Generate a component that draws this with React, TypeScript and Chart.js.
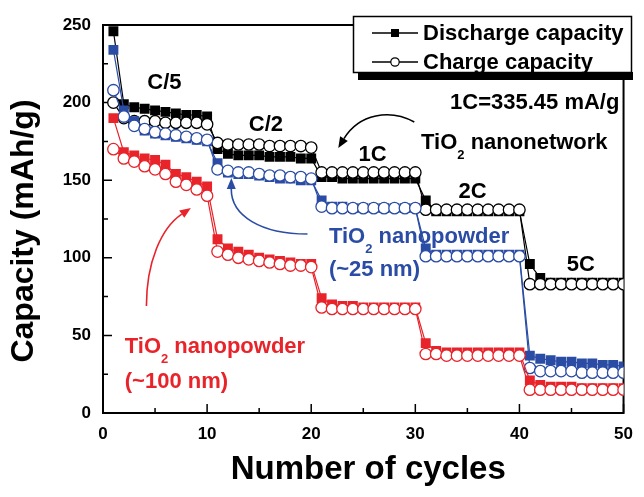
import React, { useEffect, useRef } from "react";
import { Chart, registerables } from "chart.js";

Chart.register(...registerables);

const FONT = '"Liberation Sans", Arial, Helvetica, sans-serif';
const BLACK = "#000000";
const BLUE = "#2a4ca5";
const RED = "#e8232a";

// cycle numbers
const cycles = [
  1, 2, 3, 4, 5, 6, 7, 8, 9, 10,
  11, 12, 13, 14, 15, 16, 17, 18, 19, 20,
  21, 22, 23, 24, 25, 26, 27, 28, 29, 30,
  31, 32, 33, 34, 35, 36, 37, 38, 39, 40,
  41, 42, 43, 44, 45, 46, 47, 48, 49, 50,
];

// TiO2 nanonetwork (mAh/g)
const networkDischarge = [
  246, 199, 197, 196, 195, 194, 193, 192, 192, 191,
  170, 167, 166, 166, 166, 165, 165, 165, 164, 164,
  152, 152, 151, 151, 151, 151, 151, 151, 151, 151,
  137, 130, 130, 130, 130, 130, 130, 130, 130, 130,
  96, 87, 84, 84, 84, 84, 84, 84, 84, 84,
];
const networkCharge = [
  200, 190, 188, 188, 188, 187, 187, 187, 187, 186,
  174, 173, 173, 173, 173, 172, 172, 172, 172, 171,
  155, 155, 155, 155, 155, 155, 155, 155, 155, 155,
  131, 131, 131, 131, 131, 131, 131, 131, 131, 131,
  83, 83, 83, 83, 83, 83, 83, 83, 83, 83,
];

// TiO2 nanopowder, ~25 nm (mAh/g)
const np25Discharge = [
  234, 195, 188, 182, 180, 179, 178, 177, 176, 175,
  161, 155, 154, 154, 153, 152, 151, 151, 150, 150,
  137, 133, 133, 132, 132, 132, 132, 132, 132, 132,
  106, 102, 102, 102, 102, 102, 102, 102, 102, 102,
  37, 35, 34, 33, 33, 32, 32, 31, 31, 30,
];
const np25Charge = [
  208, 191, 185, 183, 181, 180, 179, 178, 177, 176,
  157, 156, 155, 155, 154, 153, 153, 152, 152, 151,
  133, 132, 132, 132, 132, 132, 132, 132, 132, 132,
  101, 101, 101, 101, 101, 101, 101, 101, 101, 101,
  29, 27, 27, 27, 27, 26, 26, 26, 26, 26,
];

// TiO2 nanopowder, ~100 nm (mAh/g)
const np100Discharge = [
  190, 168, 166, 164, 163, 160, 154, 152, 149, 146,
  112, 106, 104, 102, 100, 99, 98, 97, 96, 96,
  74, 70, 69, 69, 68, 68, 68, 68, 68, 68,
  45, 40, 39, 39, 39, 39, 39, 39, 39, 39,
  21, 18, 17, 17, 17, 16, 16, 16, 16, 16,
];
const np100Charge = [
  170, 164, 162, 159, 157, 154, 149, 147, 144, 140,
  104, 102, 100, 99, 98, 97, 96, 95, 95, 94,
  68, 67, 67, 67, 67, 67, 67, 67, 67, 67,
  38, 38, 37, 37, 37, 37, 37, 37, 37, 37,
  15, 15, 15, 15, 15, 15, 15, 15, 15, 15,
];

const xTicks = [0, 10, 20, 30, 40, 50];
const xMinorTicks = [5, 15, 25, 35, 45];
const yTicks = [0, 50, 100, 150, 200, 250];
const yMinorTicks = [25, 75, 125, 175, 225];

const pts = (vals: number[]) => vals.map((v, i) => ({ x: cycles[i], y: v }));

function dischargeSet(label: string, vals: number[], color: string, order: number) {
  return {
    label,
    data: pts(vals),
    borderColor: color,
    backgroundColor: color,
    borderWidth: 1.2,
    pointStyle: "rect",
    pointRadius: 7,
    pointBackgroundColor: color,
    pointBorderColor: color,
    pointBorderWidth: 0,
    order,
  };
}

function chargeSet(label: string, vals: number[], color: string, order: number) {
  return {
    label,
    data: pts(vals),
    borderColor: color,
    backgroundColor: "#ffffff",
    borderWidth: 1.2,
    pointStyle: "circle",
    pointRadius: 5.7,
    pointBackgroundColor: "#ffffff",
    pointBorderColor: color,
    pointBorderWidth: 1.3,
    order,
  };
}

// text with a subscript "2" after "TiO"
function drawTiO2(ctx: CanvasRenderingContext2D, rest: string, x: number, y: number, color: string) {
  ctx.fillStyle = color;
  ctx.textAlign = "left";
  ctx.textBaseline = "middle";
  ctx.font = `bold 22px ${FONT}`;
  ctx.fillText("TiO", x, y);
  let cx = x + ctx.measureText("TiO").width;
  ctx.font = `bold 13px ${FONT}`;
  ctx.fillText("2", cx, y + 12);
  cx += ctx.measureText("2").width;
  ctx.font = `bold 22px ${FONT}`;
  ctx.fillText(rest, cx, y);
}

function curvedArrow(
  ctx: CanvasRenderingContext2D,
  p: { x: number; y: number }[],
  color: string
) {
  const [s, c1, c2, tip] = p;
  const ang = Math.atan2(tip.y - c2.y, tip.x - c2.x);
  const L = 11;
  const W = 4.5;
  const bx = tip.x - Math.cos(ang) * L;
  const by = tip.y - Math.sin(ang) * L;
  ctx.strokeStyle = color;
  ctx.fillStyle = color;
  ctx.lineWidth = 1.6;
  ctx.beginPath();
  ctx.moveTo(s.x, s.y);
  ctx.bezierCurveTo(c1.x, c1.y, c2.x, c2.y, bx, by);
  ctx.stroke();
  ctx.beginPath();
  ctx.moveTo(tip.x, tip.y);
  ctx.lineTo(bx + Math.sin(ang) * W, by - Math.cos(ang) * W);
  ctx.lineTo(bx - Math.sin(ang) * W, by + Math.cos(ang) * W);
  ctx.closePath();
  ctx.fill();
}

const decor = {
  id: "decor",
  beforeDatasetsDraw(chart: any) {
    const { ctx, chartArea: a, scales } = chart;
    const xs = scales.x;
    const ys = scales.y;
    ctx.save();
    ctx.strokeStyle = "#000";
    ctx.lineWidth = 2;
    ctx.strokeRect(a.left, a.top, a.right - a.left, a.bottom - a.top);
    ctx.lineWidth = 1.5;
    ctx.beginPath();
    xTicks.forEach((v) => {
      const px = xs.getPixelForValue(v);
      ctx.moveTo(px, a.bottom);
      ctx.lineTo(px, a.bottom - 9);
    });
    xMinorTicks.forEach((v) => {
      const px = xs.getPixelForValue(v);
      ctx.moveTo(px, a.bottom);
      ctx.lineTo(px, a.bottom - 5);
    });
    yTicks.forEach((v) => {
      const py = ys.getPixelForValue(v);
      ctx.moveTo(a.left, py);
      ctx.lineTo(a.left + 9, py);
    });
    yMinorTicks.forEach((v) => {
      const py = ys.getPixelForValue(v);
      ctx.moveTo(a.left, py);
      ctx.lineTo(a.left + 5, py);
    });
    ctx.stroke();
    ctx.restore();
  },
  afterDraw(chart: any) {
    const { ctx, chartArea: a, scales } = chart;
    const xs = scales.x;
    const ys = scales.y;
    const P = (x: number, y: number) => ({ x: xs.getPixelForValue(x), y: ys.getPixelForValue(y) });
    ctx.save();

    // rate labels
    ctx.fillStyle = BLACK;
    ctx.font = `bold 22px ${FONT}`;
    ctx.textAlign = "center";
    ctx.textBaseline = "middle";
    const rates: [string, number, number][] = [
      ["C/5", 5.9, 212.6],
      ["C/2", 15.65, 185.6],
      ["1C", 25.9, 166.2],
      ["2C", 35.5, 142.4],
      ["5C", 45.9, 95.4],
    ];
    rates.forEach(([t, x, y]) => {
      const p = P(x, y);
      ctx.fillText(t, p.x, p.y);
    });
    ctx.textAlign = "right";
    const rp = P(49.6, 199.7);
    ctx.fillText("1C=335.45 mA/g", rp.x, rp.y);

    // sample labels
    const n = P(30.55, 174);
    drawTiO2(ctx, " nanonetwork", n.x, n.y, BLACK);
    const b = P(21.7, 113.4);
    drawTiO2(ctx, " nanopowder", b.x, b.y, BLUE);
    ctx.font = `bold 22px ${FONT}`;
    const b2 = P(21.7, 92.1);
    ctx.fillText("(~25 nm)", b2.x, b2.y);
    const r = P(2.09, 42.5);
    drawTiO2(ctx, " nanopowder", r.x, r.y, RED);
    ctx.font = `bold 22px ${FONT}`;
    const r2 = P(2.09, 20);
    ctx.fillText("(~100 nm)", r2.x, r2.y);

    // pointer arrows
    curvedArrow(ctx, [P(29.9, 187.5), P(27.6, 196), P(24.6, 193), P(22.6, 170.7)], BLACK);
    curvedArrow(ctx, [P(19.64, 115.3), P(15.2, 115.3), P(12.3, 127), P(12.33, 151.4)], BLUE);
    curvedArrow(ctx, [P(4.17, 68.9), P(4.17, 97.3), P(5.6, 119.2), P(8.44, 132.1)], RED);

    // legend box with drop shadow
    ctx.fillStyle = "#000";
    ctx.fillRect(358, 72, 275, 8);
    ctx.fillStyle = "#fff";
    ctx.fillRect(353, 16, 279, 57);
    ctx.strokeStyle = "#000";
    ctx.lineWidth = 1.5;
    ctx.strokeRect(353.5, 16.5, 278, 56);

    ctx.lineWidth = 1.5;
    ctx.beginPath();
    ctx.moveTo(372, 33);
    ctx.lineTo(418, 33);
    ctx.moveTo(372, 62);
    ctx.lineTo(418, 62);
    ctx.stroke();
    ctx.fillStyle = "#000";
    ctx.fillRect(391, 29, 8, 8);
    ctx.beginPath();
    ctx.arc(395, 62, 4.2, 0, Math.PI * 2);
    ctx.fillStyle = "#fff";
    ctx.fill();
    ctx.lineWidth = 1.2;
    ctx.stroke();

    ctx.fillStyle = "#000";
    ctx.font = `bold 22px ${FONT}`;
    ctx.textAlign = "left";
    ctx.textBaseline = "middle";
    ctx.fillText("Discharge capacity", 423, 34);
    ctx.fillText("Charge capacity", 423, 63);

    // axis titles
    ctx.font = `bold 33px ${FONT}`;
    ctx.textAlign = "center";
    ctx.fillText("Number of cycles", (a.left + a.right) / 2 + 5, 470);
    ctx.save();
    ctx.translate(24, 231);
    ctx.rotate(-Math.PI / 2);
    ctx.font = `bold 32px ${FONT}`;
    ctx.fillText("Capacity (mAh/g)", 0, 0);
    ctx.restore();

    ctx.restore();
  },
};

export default function App() {
  const ref = useRef<HTMLCanvasElement | null>(null);

  useEffect(() => {
    document.body.style.margin = "0";
    if (!ref.current) return;
    const chart = new Chart(ref.current, {
      type: "line",
      data: {
        datasets: [
          dischargeSet("TiO2 nanonetwork discharge", networkDischarge, BLACK, 6),
          chargeSet("TiO2 nanonetwork charge", networkCharge, BLACK, 5),
          dischargeSet("TiO2 nanopowder (~25 nm) discharge", np25Discharge, BLUE, 4),
          chargeSet("TiO2 nanopowder (~25 nm) charge", np25Charge, BLUE, 3),
          dischargeSet("TiO2 nanopowder (~100 nm) discharge", np100Discharge, RED, 2),
          chargeSet("TiO2 nanopowder (~100 nm) charge", np100Charge, RED, 1),
        ] as any,
      },
      options: {
        responsive: false,
        animation: false,
        devicePixelRatio: 1,
        layout: { padding: { top: 25, right: 14, left: 0, bottom: 0 } },
        plugins: {
          legend: { display: false },
          tooltip: { enabled: false },
        },
        scales: {
          x: {
            type: "linear",
            min: 0,
            max: 50,
            grid: { display: false, drawTicks: false },
            border: { display: false },
            ticks: {
              stepSize: 10,
              padding: 11,
              color: "#000",
              font: { family: FONT, size: 17, weight: "bold" },
            },
            afterFit: (s: any) => {
              s.height = 84;
            },
          },
          y: {
            type: "linear",
            min: 0,
            max: 250,
            grid: { display: false, drawTicks: false },
            border: { display: false },
            ticks: {
              stepSize: 50,
              padding: 12,
              color: "#000",
              font: { family: FONT, size: 17, weight: "bold" },
            },
            afterFit: (s: any) => {
              s.width = 103;
            },
          },
        },
      } as any,
      plugins: [decor],
    });
    return () => chart.destroy();
  }, []);

  return (
    <div style={{ width: 644, height: 497, background: "#fff" }}>
      <canvas ref={ref} width={644} height={497} style={{ display: "block" }} />
    </div>
  );
}
